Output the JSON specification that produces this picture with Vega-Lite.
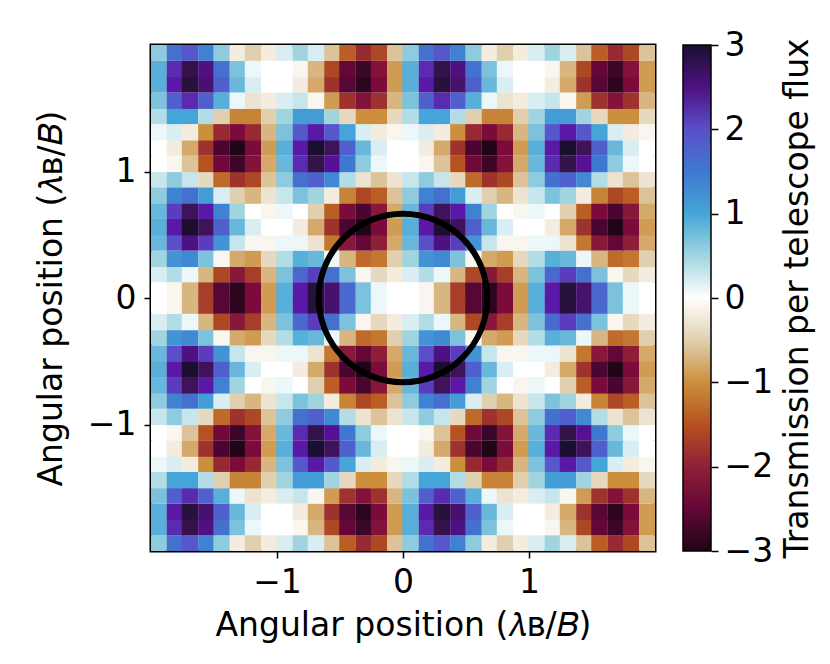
{"$schema":"https://vega.github.io/schema/vega-lite/v6.json","width":504,"height":506,"autosize":"none","padding":{"left":151,"top":45,"right":175,"bottom":113},"background":"white","view":{"stroke":"black","strokeWidth":3},"config":{"font":"DejaVu Sans","axis":{"grid":false,"labelFont":"DejaVu Sans","titleFont":"DejaVu Sans","labelFontSize":33,"titleFontSize":33,"titleFontWeight":"normal","labelColor":"black","titleColor":"black","tickColor":"black","tickSize":7,"tickWidth":1.5,"domain":false}},"resolve":{"scale":{"y":"independent"}},"datasets":{"cells":[
{"x":-1.94,"y":-1.94,"v":0.6},{"x":-1.81,"y":-1.94,"v":1.6},{"x":-1.69,"y":-1.94,"v":1.9},{"x":-1.56,"y":-1.94,"v":1.4},{"x":-1.44,"y":-1.94,"v":0.6},{"x":-1.31,"y":-1.94,"v":-0.2},{"x":-1.19,"y":-1.94,"v":-0.5},{"x":-1.06,"y":-1.94,"v":-0.2},{"x":-0.94,"y":-1.94,"v":0.2},{"x":-0.81,"y":-1.94,"v":0.5},{"x":-0.69,"y":-1.94,"v":0.2},{"x":-0.56,"y":-1.94,"v":-0.6},{"x":-0.44,"y":-1.94,"v":-1.4},{"x":-0.31,"y":-1.94,"v":-1.9},{"x":-0.19,"y":-1.94,"v":-1.6},{"x":-0.06,"y":-1.94,"v":-0.6},{"x":0.06,"y":-1.94,"v":0.6},{"x":0.19,"y":-1.94,"v":1.6},{"x":0.31,"y":-1.94,"v":1.9},{"x":0.44,"y":-1.94,"v":1.4},{"x":0.56,"y":-1.94,"v":0.6},{"x":0.69,"y":-1.94,"v":-0.2},{"x":0.81,"y":-1.94,"v":-0.5},{"x":0.94,"y":-1.94,"v":-0.2},{"x":1.06,"y":-1.94,"v":0.2},{"x":1.19,"y":-1.94,"v":0.5},{"x":1.31,"y":-1.94,"v":0.2},{"x":1.44,"y":-1.94,"v":-0.6},{"x":1.56,"y":-1.94,"v":-1.4},{"x":1.69,"y":-1.94,"v":-1.9},{"x":1.81,"y":-1.94,"v":-1.6},{"x":1.94,"y":-1.94,"v":-0.6},
{"x":-1.94,"y":-1.81,"v":0.9},{"x":-1.81,"y":-1.81,"v":2.2},{"x":-1.69,"y":-1.81,"v":2.8},{"x":-1.56,"y":-1.81,"v":2.5},{"x":-1.44,"y":-1.81,"v":1.6},{"x":-1.31,"y":-1.81,"v":0.7},{"x":-1.19,"y":-1.81,"v":0.1},{"x":-1.06,"y":-1.81,"v":0},{"x":-0.94,"y":-1.81,"v":0},{"x":-0.81,"y":-1.81,"v":-0.1},{"x":-0.69,"y":-1.81,"v":-0.7},{"x":-0.56,"y":-1.81,"v":-1.6},{"x":-0.44,"y":-1.81,"v":-2.5},{"x":-0.31,"y":-1.81,"v":-2.8},{"x":-0.19,"y":-1.81,"v":-2.2},{"x":-0.06,"y":-1.81,"v":-0.9},{"x":0.06,"y":-1.81,"v":0.9},{"x":0.19,"y":-1.81,"v":2.2},{"x":0.31,"y":-1.81,"v":2.8},{"x":0.44,"y":-1.81,"v":2.5},{"x":0.56,"y":-1.81,"v":1.6},{"x":0.69,"y":-1.81,"v":0.7},{"x":0.81,"y":-1.81,"v":0.1},{"x":0.94,"y":-1.81,"v":0},{"x":1.06,"y":-1.81,"v":0},{"x":1.19,"y":-1.81,"v":-0.1},{"x":1.31,"y":-1.81,"v":-0.7},{"x":1.44,"y":-1.81,"v":-1.6},{"x":1.56,"y":-1.81,"v":-2.5},{"x":1.69,"y":-1.81,"v":-2.8},{"x":1.81,"y":-1.81,"v":-2.2},{"x":1.94,"y":-1.81,"v":-0.9},
{"x":-1.94,"y":-1.69,"v":0.9},{"x":-1.81,"y":-1.69,"v":2.3},{"x":-1.69,"y":-1.69,"v":2.9},{"x":-1.56,"y":-1.69,"v":2.6},{"x":-1.44,"y":-1.69,"v":1.8},{"x":-1.31,"y":-1.69,"v":0.8},{"x":-1.19,"y":-1.69,"v":0.2},{"x":-1.06,"y":-1.69,"v":0},{"x":-0.94,"y":-1.69,"v":0},{"x":-0.81,"y":-1.69,"v":-0.2},{"x":-0.69,"y":-1.69,"v":-0.8},{"x":-0.56,"y":-1.69,"v":-1.8},{"x":-0.44,"y":-1.69,"v":-2.6},{"x":-0.31,"y":-1.69,"v":-2.9},{"x":-0.19,"y":-1.69,"v":-2.3},{"x":-0.06,"y":-1.69,"v":-0.9},{"x":0.06,"y":-1.69,"v":0.9},{"x":0.19,"y":-1.69,"v":2.3},{"x":0.31,"y":-1.69,"v":2.9},{"x":0.44,"y":-1.69,"v":2.6},{"x":0.56,"y":-1.69,"v":1.8},{"x":0.69,"y":-1.69,"v":0.8},{"x":0.81,"y":-1.69,"v":0.2},{"x":0.94,"y":-1.69,"v":0},{"x":1.06,"y":-1.69,"v":0},{"x":1.19,"y":-1.69,"v":-0.2},{"x":1.31,"y":-1.69,"v":-0.8},{"x":1.44,"y":-1.69,"v":-1.8},{"x":1.56,"y":-1.69,"v":-2.6},{"x":1.69,"y":-1.69,"v":-2.9},{"x":1.81,"y":-1.69,"v":-2.3},{"x":1.94,"y":-1.69,"v":-0.9},
{"x":-1.94,"y":-1.56,"v":0.7},{"x":-1.81,"y":-1.56,"v":1.8},{"x":-1.69,"y":-1.56,"v":2.2},{"x":-1.56,"y":-1.56,"v":1.8},{"x":-1.44,"y":-1.56,"v":0.9},{"x":-1.31,"y":-1.56,"v":0.1},{"x":-1.19,"y":-1.56,"v":-0.3},{"x":-1.06,"y":-1.56,"v":-0.2},{"x":-0.94,"y":-1.56,"v":0.2},{"x":-0.81,"y":-1.56,"v":0.3},{"x":-0.69,"y":-1.56,"v":-0.1},{"x":-0.56,"y":-1.56,"v":-0.9},{"x":-0.44,"y":-1.56,"v":-1.8},{"x":-0.31,"y":-1.56,"v":-2.2},{"x":-0.19,"y":-1.56,"v":-1.8},{"x":-0.06,"y":-1.56,"v":-0.7},{"x":0.06,"y":-1.56,"v":0.7},{"x":0.19,"y":-1.56,"v":1.8},{"x":0.31,"y":-1.56,"v":2.2},{"x":0.44,"y":-1.56,"v":1.8},{"x":0.56,"y":-1.56,"v":0.9},{"x":0.69,"y":-1.56,"v":0.1},{"x":0.81,"y":-1.56,"v":-0.3},{"x":0.94,"y":-1.56,"v":-0.2},{"x":1.06,"y":-1.56,"v":0.2},{"x":1.19,"y":-1.56,"v":0.3},{"x":1.31,"y":-1.56,"v":-0.1},{"x":1.44,"y":-1.56,"v":-0.9},{"x":1.56,"y":-1.56,"v":-1.8},{"x":1.69,"y":-1.56,"v":-2.2},{"x":1.81,"y":-1.56,"v":-1.8},{"x":1.94,"y":-1.56,"v":-0.7},
{"x":-1.94,"y":-1.44,"v":0.4},{"x":-1.81,"y":-1.44,"v":1},{"x":-1.69,"y":-1.44,"v":1},{"x":-1.56,"y":-1.44,"v":0.4},{"x":-1.44,"y":-1.44,"v":-0.5},{"x":-1.31,"y":-1.44,"v":-1.1},{"x":-1.19,"y":-1.44,"v":-1.1},{"x":-1.06,"y":-1.44,"v":-0.5},{"x":-0.94,"y":-1.44,"v":0.5},{"x":-0.81,"y":-1.44,"v":1.1},{"x":-0.69,"y":-1.44,"v":1.1},{"x":-0.56,"y":-1.44,"v":0.5},{"x":-0.44,"y":-1.44,"v":-0.4},{"x":-0.31,"y":-1.44,"v":-1},{"x":-0.19,"y":-1.44,"v":-1},{"x":-0.06,"y":-1.44,"v":-0.4},{"x":0.06,"y":-1.44,"v":0.4},{"x":0.19,"y":-1.44,"v":1},{"x":0.31,"y":-1.44,"v":1},{"x":0.44,"y":-1.44,"v":0.4},{"x":0.56,"y":-1.44,"v":-0.5},{"x":0.69,"y":-1.44,"v":-1.1},{"x":0.81,"y":-1.44,"v":-1.1},{"x":0.94,"y":-1.44,"v":-0.5},{"x":1.06,"y":-1.44,"v":0.5},{"x":1.19,"y":-1.44,"v":1.1},{"x":1.31,"y":-1.44,"v":1.1},{"x":1.44,"y":-1.44,"v":0.5},{"x":1.56,"y":-1.44,"v":-0.4},{"x":1.69,"y":-1.44,"v":-1},{"x":1.81,"y":-1.44,"v":-1},{"x":1.94,"y":-1.44,"v":-0.4},
{"x":-1.94,"y":-1.31,"v":0.1},{"x":-1.81,"y":-1.31,"v":0.2},{"x":-1.69,"y":-1.31,"v":-0.2},{"x":-1.56,"y":-1.31,"v":-1},{"x":-1.44,"y":-1.31,"v":-1.9},{"x":-1.31,"y":-1.31,"v":-2.3},{"x":-1.19,"y":-1.31,"v":-1.9},{"x":-1.06,"y":-1.31,"v":-0.7},{"x":-0.94,"y":-1.31,"v":0.7},{"x":-0.81,"y":-1.31,"v":1.9},{"x":-0.69,"y":-1.31,"v":2.3},{"x":-0.56,"y":-1.31,"v":1.9},{"x":-0.44,"y":-1.31,"v":1},{"x":-0.31,"y":-1.31,"v":0.2},{"x":-0.19,"y":-1.31,"v":-0.2},{"x":-0.06,"y":-1.31,"v":-0.1},{"x":0.06,"y":-1.31,"v":0.1},{"x":0.19,"y":-1.31,"v":0.2},{"x":0.31,"y":-1.31,"v":-0.2},{"x":0.44,"y":-1.31,"v":-1},{"x":0.56,"y":-1.31,"v":-1.9},{"x":0.69,"y":-1.31,"v":-2.3},{"x":0.81,"y":-1.31,"v":-1.9},{"x":0.94,"y":-1.31,"v":-0.7},{"x":1.06,"y":-1.31,"v":0.7},{"x":1.19,"y":-1.31,"v":1.9},{"x":1.31,"y":-1.31,"v":2.3},{"x":1.44,"y":-1.31,"v":1.9},{"x":1.56,"y":-1.31,"v":1},{"x":1.69,"y":-1.31,"v":0.2},{"x":1.81,"y":-1.31,"v":-0.2},{"x":1.94,"y":-1.31,"v":-0.1},
{"x":-1.94,"y":-1.19,"v":0},{"x":-1.81,"y":-1.19,"v":-0.2},{"x":-1.69,"y":-1.19,"v":-0.8},{"x":-1.56,"y":-1.19,"v":-1.8},{"x":-1.44,"y":-1.19,"v":-2.7},{"x":-1.31,"y":-1.19,"v":-3},{"x":-1.19,"y":-1.19,"v":-2.3},{"x":-1.06,"y":-1.19,"v":-0.9},{"x":-0.94,"y":-1.19,"v":0.9},{"x":-0.81,"y":-1.19,"v":2.3},{"x":-0.69,"y":-1.19,"v":3},{"x":-0.56,"y":-1.19,"v":2.7},{"x":-0.44,"y":-1.19,"v":1.8},{"x":-0.31,"y":-1.19,"v":0.8},{"x":-0.19,"y":-1.19,"v":0.2},{"x":-0.06,"y":-1.19,"v":0},{"x":0.06,"y":-1.19,"v":0},{"x":0.19,"y":-1.19,"v":-0.2},{"x":0.31,"y":-1.19,"v":-0.8},{"x":0.44,"y":-1.19,"v":-1.8},{"x":0.56,"y":-1.19,"v":-2.7},{"x":0.69,"y":-1.19,"v":-3},{"x":0.81,"y":-1.19,"v":-2.3},{"x":0.94,"y":-1.19,"v":-0.9},{"x":1.06,"y":-1.19,"v":0.9},{"x":1.19,"y":-1.19,"v":2.3},{"x":1.31,"y":-1.19,"v":3},{"x":1.44,"y":-1.19,"v":2.7},{"x":1.56,"y":-1.19,"v":1.8},{"x":1.69,"y":-1.19,"v":0.8},{"x":1.81,"y":-1.19,"v":0.2},{"x":1.94,"y":-1.19,"v":0},
{"x":-1.94,"y":-1.06,"v":0},{"x":-1.81,"y":-1.06,"v":-0.1},{"x":-1.69,"y":-1.06,"v":-0.6},{"x":-1.56,"y":-1.06,"v":-1.5},{"x":-1.44,"y":-1.06,"v":-2.4},{"x":-1.31,"y":-1.06,"v":-2.8},{"x":-1.19,"y":-1.06,"v":-2.2},{"x":-1.06,"y":-1.06,"v":-0.8},{"x":-0.94,"y":-1.06,"v":0.8},{"x":-0.81,"y":-1.06,"v":2.2},{"x":-0.69,"y":-1.06,"v":2.8},{"x":-0.56,"y":-1.06,"v":2.4},{"x":-0.44,"y":-1.06,"v":1.5},{"x":-0.31,"y":-1.06,"v":0.6},{"x":-0.19,"y":-1.06,"v":0.1},{"x":-0.06,"y":-1.06,"v":0},{"x":0.06,"y":-1.06,"v":0},{"x":0.19,"y":-1.06,"v":-0.1},{"x":0.31,"y":-1.06,"v":-0.6},{"x":0.44,"y":-1.06,"v":-1.5},{"x":0.56,"y":-1.06,"v":-2.4},{"x":0.69,"y":-1.06,"v":-2.8},{"x":0.81,"y":-1.06,"v":-2.2},{"x":0.94,"y":-1.06,"v":-0.8},{"x":1.06,"y":-1.06,"v":0.8},{"x":1.19,"y":-1.06,"v":2.2},{"x":1.31,"y":-1.06,"v":2.8},{"x":1.44,"y":-1.06,"v":2.4},{"x":1.56,"y":-1.06,"v":1.5},{"x":1.69,"y":-1.06,"v":0.6},{"x":1.81,"y":-1.06,"v":0.1},{"x":1.94,"y":-1.06,"v":0},
{"x":-1.94,"y":-0.94,"v":0.3},{"x":-1.81,"y":-0.94,"v":0.6},{"x":-1.69,"y":-0.94,"v":0.3},{"x":-1.56,"y":-0.94,"v":-0.4},{"x":-1.44,"y":-0.94,"v":-1.3},{"x":-1.31,"y":-0.94,"v":-1.8},{"x":-1.19,"y":-0.94,"v":-1.6},{"x":-1.06,"y":-0.94,"v":-0.6},{"x":-0.94,"y":-0.94,"v":0.6},{"x":-0.81,"y":-0.94,"v":1.6},{"x":-0.69,"y":-0.94,"v":1.8},{"x":-0.56,"y":-0.94,"v":1.3},{"x":-0.44,"y":-0.94,"v":0.4},{"x":-0.31,"y":-0.94,"v":-0.3},{"x":-0.19,"y":-0.94,"v":-0.6},{"x":-0.06,"y":-0.94,"v":-0.3},{"x":0.06,"y":-0.94,"v":0.3},{"x":0.19,"y":-0.94,"v":0.6},{"x":0.31,"y":-0.94,"v":0.3},{"x":0.44,"y":-0.94,"v":-0.4},{"x":0.56,"y":-0.94,"v":-1.3},{"x":0.69,"y":-0.94,"v":-1.8},{"x":0.81,"y":-0.94,"v":-1.6},{"x":0.94,"y":-0.94,"v":-0.6},{"x":1.06,"y":-0.94,"v":0.6},{"x":1.19,"y":-0.94,"v":1.6},{"x":1.31,"y":-0.94,"v":1.8},{"x":1.44,"y":-0.94,"v":1.3},{"x":1.56,"y":-0.94,"v":0.4},{"x":1.69,"y":-0.94,"v":-0.3},{"x":1.81,"y":-0.94,"v":-0.6},{"x":1.94,"y":-0.94,"v":-0.3},
{"x":-1.94,"y":-0.81,"v":0.6},{"x":-1.81,"y":-0.81,"v":1.4},{"x":-1.69,"y":-0.81,"v":1.6},{"x":-1.56,"y":-0.81,"v":1.1},{"x":-1.44,"y":-0.81,"v":0.2},{"x":-1.31,"y":-0.81,"v":-0.5},{"x":-1.19,"y":-0.81,"v":-0.7},{"x":-1.06,"y":-0.81,"v":-0.3},{"x":-0.94,"y":-0.81,"v":0.3},{"x":-0.81,"y":-0.81,"v":0.7},{"x":-0.69,"y":-0.81,"v":0.5},{"x":-0.56,"y":-0.81,"v":-0.2},{"x":-0.44,"y":-0.81,"v":-1.1},{"x":-0.31,"y":-0.81,"v":-1.6},{"x":-0.19,"y":-0.81,"v":-1.4},{"x":-0.06,"y":-0.81,"v":-0.6},{"x":0.06,"y":-0.81,"v":0.6},{"x":0.19,"y":-0.81,"v":1.4},{"x":0.31,"y":-0.81,"v":1.6},{"x":0.44,"y":-0.81,"v":1.1},{"x":0.56,"y":-0.81,"v":0.2},{"x":0.69,"y":-0.81,"v":-0.5},{"x":0.81,"y":-0.81,"v":-0.7},{"x":0.94,"y":-0.81,"v":-0.3},{"x":1.06,"y":-0.81,"v":0.3},{"x":1.19,"y":-0.81,"v":0.7},{"x":1.31,"y":-0.81,"v":0.5},{"x":1.44,"y":-0.81,"v":-0.2},{"x":1.56,"y":-0.81,"v":-1.1},{"x":1.69,"y":-0.81,"v":-1.6},{"x":1.81,"y":-0.81,"v":-1.4},{"x":1.94,"y":-0.81,"v":-0.6},
{"x":-1.94,"y":-0.69,"v":0.8},{"x":-1.81,"y":-0.69,"v":2.1},{"x":-1.69,"y":-0.69,"v":2.7},{"x":-1.56,"y":-0.69,"v":2.3},{"x":-1.44,"y":-0.69,"v":1.4},{"x":-1.31,"y":-0.69,"v":0.5},{"x":-1.19,"y":-0.69,"v":0},{"x":-1.06,"y":-0.69,"v":-0.1},{"x":-0.94,"y":-0.69,"v":0.1},{"x":-0.81,"y":-0.69,"v":0},{"x":-0.69,"y":-0.69,"v":-0.5},{"x":-0.56,"y":-0.69,"v":-1.4},{"x":-0.44,"y":-0.69,"v":-2.3},{"x":-0.31,"y":-0.69,"v":-2.7},{"x":-0.19,"y":-0.69,"v":-2.1},{"x":-0.06,"y":-0.69,"v":-0.8},{"x":0.06,"y":-0.69,"v":0.8},{"x":0.19,"y":-0.69,"v":2.1},{"x":0.31,"y":-0.69,"v":2.7},{"x":0.44,"y":-0.69,"v":2.3},{"x":0.56,"y":-0.69,"v":1.4},{"x":0.69,"y":-0.69,"v":0.5},{"x":0.81,"y":-0.69,"v":0},{"x":0.94,"y":-0.69,"v":-0.1},{"x":1.06,"y":-0.69,"v":0.1},{"x":1.19,"y":-0.69,"v":0},{"x":1.31,"y":-0.69,"v":-0.5},{"x":1.44,"y":-0.69,"v":-1.4},{"x":1.56,"y":-0.69,"v":-2.3},{"x":1.69,"y":-0.69,"v":-2.7},{"x":1.81,"y":-0.69,"v":-2.1},{"x":1.94,"y":-0.69,"v":-0.8},
{"x":-1.94,"y":-0.56,"v":0.9},{"x":-1.81,"y":-0.56,"v":2.3},{"x":-1.69,"y":-0.56,"v":3},{"x":-1.56,"y":-0.56,"v":2.7},{"x":-1.44,"y":-0.56,"v":1.8},{"x":-1.31,"y":-0.56,"v":0.8},{"x":-1.19,"y":-0.56,"v":0.2},{"x":-1.06,"y":-0.56,"v":0},{"x":-0.94,"y":-0.56,"v":0},{"x":-0.81,"y":-0.56,"v":-0.2},{"x":-0.69,"y":-0.56,"v":-0.8},{"x":-0.56,"y":-0.56,"v":-1.8},{"x":-0.44,"y":-0.56,"v":-2.7},{"x":-0.31,"y":-0.56,"v":-3},{"x":-0.19,"y":-0.56,"v":-2.3},{"x":-0.06,"y":-0.56,"v":-0.9},{"x":0.06,"y":-0.56,"v":0.9},{"x":0.19,"y":-0.56,"v":2.3},{"x":0.31,"y":-0.56,"v":3},{"x":0.44,"y":-0.56,"v":2.7},{"x":0.56,"y":-0.56,"v":1.8},{"x":0.69,"y":-0.56,"v":0.8},{"x":0.81,"y":-0.56,"v":0.2},{"x":0.94,"y":-0.56,"v":0},{"x":1.06,"y":-0.56,"v":0},{"x":1.19,"y":-0.56,"v":-0.2},{"x":1.31,"y":-0.56,"v":-0.8},{"x":1.44,"y":-0.56,"v":-1.8},{"x":1.56,"y":-0.56,"v":-2.7},{"x":1.69,"y":-0.56,"v":-3},{"x":1.81,"y":-0.56,"v":-2.3},{"x":1.94,"y":-0.56,"v":-0.9},
{"x":-1.94,"y":-0.44,"v":0.8},{"x":-1.81,"y":-0.44,"v":2},{"x":-1.69,"y":-0.44,"v":2.5},{"x":-1.56,"y":-0.44,"v":2.1},{"x":-1.44,"y":-0.44,"v":1.2},{"x":-1.31,"y":-0.44,"v":0.3},{"x":-1.19,"y":-0.44,"v":-0.1},{"x":-1.06,"y":-0.44,"v":-0.1},{"x":-0.94,"y":-0.44,"v":0.1},{"x":-0.81,"y":-0.44,"v":0.1},{"x":-0.69,"y":-0.44,"v":-0.3},{"x":-0.56,"y":-0.44,"v":-1.2},{"x":-0.44,"y":-0.44,"v":-2.1},{"x":-0.31,"y":-0.44,"v":-2.5},{"x":-0.19,"y":-0.44,"v":-2},{"x":-0.06,"y":-0.44,"v":-0.8},{"x":0.06,"y":-0.44,"v":0.8},{"x":0.19,"y":-0.44,"v":2},{"x":0.31,"y":-0.44,"v":2.5},{"x":0.44,"y":-0.44,"v":2.1},{"x":0.56,"y":-0.44,"v":1.2},{"x":0.69,"y":-0.44,"v":0.3},{"x":0.81,"y":-0.44,"v":-0.1},{"x":0.94,"y":-0.44,"v":-0.1},{"x":1.06,"y":-0.44,"v":0.1},{"x":1.19,"y":-0.44,"v":0.1},{"x":1.31,"y":-0.44,"v":-0.3},{"x":1.44,"y":-0.44,"v":-1.2},{"x":1.56,"y":-0.44,"v":-2.1},{"x":1.69,"y":-0.44,"v":-2.5},{"x":1.81,"y":-0.44,"v":-2},{"x":1.94,"y":-0.44,"v":-0.8},
{"x":-1.94,"y":-0.31,"v":0.5},{"x":-1.81,"y":-0.31,"v":1.2},{"x":-1.69,"y":-0.31,"v":1.3},{"x":-1.56,"y":-0.31,"v":0.7},{"x":-1.44,"y":-0.31,"v":-0.1},{"x":-1.31,"y":-0.31,"v":-0.8},{"x":-1.19,"y":-0.31,"v":-0.9},{"x":-1.06,"y":-0.31,"v":-0.4},{"x":-0.94,"y":-0.31,"v":0.4},{"x":-0.81,"y":-0.31,"v":0.9},{"x":-0.69,"y":-0.31,"v":0.8},{"x":-0.56,"y":-0.31,"v":0.1},{"x":-0.44,"y":-0.31,"v":-0.7},{"x":-0.31,"y":-0.31,"v":-1.3},{"x":-0.19,"y":-0.31,"v":-1.2},{"x":-0.06,"y":-0.31,"v":-0.5},{"x":0.06,"y":-0.31,"v":0.5},{"x":0.19,"y":-0.31,"v":1.2},{"x":0.31,"y":-0.31,"v":1.3},{"x":0.44,"y":-0.31,"v":0.7},{"x":0.56,"y":-0.31,"v":-0.1},{"x":0.69,"y":-0.31,"v":-0.8},{"x":0.81,"y":-0.31,"v":-0.9},{"x":0.94,"y":-0.31,"v":-0.4},{"x":1.06,"y":-0.31,"v":0.4},{"x":1.19,"y":-0.31,"v":0.9},{"x":1.31,"y":-0.31,"v":0.8},{"x":1.44,"y":-0.31,"v":0.1},{"x":1.56,"y":-0.31,"v":-0.7},{"x":1.69,"y":-0.31,"v":-1.3},{"x":1.81,"y":-0.31,"v":-1.2},{"x":1.94,"y":-0.31,"v":-0.5},
{"x":-1.94,"y":-0.19,"v":0.2},{"x":-1.81,"y":-0.19,"v":0.4},{"x":-1.69,"y":-0.19,"v":0.1},{"x":-1.56,"y":-0.19,"v":-0.7},{"x":-1.44,"y":-0.19,"v":-1.6},{"x":-1.31,"y":-0.19,"v":-2.1},{"x":-1.19,"y":-0.19,"v":-1.7},{"x":-1.06,"y":-0.19,"v":-0.7},{"x":-0.94,"y":-0.19,"v":0.7},{"x":-0.81,"y":-0.19,"v":1.7},{"x":-0.69,"y":-0.19,"v":2.1},{"x":-0.56,"y":-0.19,"v":1.6},{"x":-0.44,"y":-0.19,"v":0.7},{"x":-0.31,"y":-0.19,"v":-0.1},{"x":-0.19,"y":-0.19,"v":-0.4},{"x":-0.06,"y":-0.19,"v":-0.2},{"x":0.06,"y":-0.19,"v":0.2},{"x":0.19,"y":-0.19,"v":0.4},{"x":0.31,"y":-0.19,"v":0.1},{"x":0.44,"y":-0.19,"v":-0.7},{"x":0.56,"y":-0.19,"v":-1.6},{"x":0.69,"y":-0.19,"v":-2.1},{"x":0.81,"y":-0.19,"v":-1.7},{"x":0.94,"y":-0.19,"v":-0.7},{"x":1.06,"y":-0.19,"v":0.7},{"x":1.19,"y":-0.19,"v":1.7},{"x":1.31,"y":-0.19,"v":2.1},{"x":1.44,"y":-0.19,"v":1.6},{"x":1.56,"y":-0.19,"v":0.7},{"x":1.69,"y":-0.19,"v":-0.1},{"x":1.81,"y":-0.19,"v":-0.4},{"x":1.94,"y":-0.19,"v":-0.2},
{"x":-1.94,"y":-0.06,"v":0},{"x":-1.81,"y":-0.06,"v":-0.1},{"x":-1.69,"y":-0.06,"v":-0.7},{"x":-1.56,"y":-0.06,"v":-1.7},{"x":-1.44,"y":-0.06,"v":-2.6},{"x":-1.31,"y":-0.06,"v":-2.9},{"x":-1.19,"y":-0.06,"v":-2.3},{"x":-1.06,"y":-0.06,"v":-0.9},{"x":-0.94,"y":-0.06,"v":0.9},{"x":-0.81,"y":-0.06,"v":2.3},{"x":-0.69,"y":-0.06,"v":2.9},{"x":-0.56,"y":-0.06,"v":2.6},{"x":-0.44,"y":-0.06,"v":1.7},{"x":-0.31,"y":-0.06,"v":0.7},{"x":-0.19,"y":-0.06,"v":0.1},{"x":-0.06,"y":-0.06,"v":0},{"x":0.06,"y":-0.06,"v":0},{"x":0.19,"y":-0.06,"v":-0.1},{"x":0.31,"y":-0.06,"v":-0.7},{"x":0.44,"y":-0.06,"v":-1.7},{"x":0.56,"y":-0.06,"v":-2.6},{"x":0.69,"y":-0.06,"v":-2.9},{"x":0.81,"y":-0.06,"v":-2.3},{"x":0.94,"y":-0.06,"v":-0.9},{"x":1.06,"y":-0.06,"v":0.9},{"x":1.19,"y":-0.06,"v":2.3},{"x":1.31,"y":-0.06,"v":2.9},{"x":1.44,"y":-0.06,"v":2.6},{"x":1.56,"y":-0.06,"v":1.7},{"x":1.69,"y":-0.06,"v":0.7},{"x":1.81,"y":-0.06,"v":0.1},{"x":1.94,"y":-0.06,"v":0},
{"x":-1.94,"y":0.06,"v":0},{"x":-1.81,"y":0.06,"v":-0.1},{"x":-1.69,"y":0.06,"v":-0.7},{"x":-1.56,"y":0.06,"v":-1.7},{"x":-1.44,"y":0.06,"v":-2.6},{"x":-1.31,"y":0.06,"v":-2.9},{"x":-1.19,"y":0.06,"v":-2.3},{"x":-1.06,"y":0.06,"v":-0.9},{"x":-0.94,"y":0.06,"v":0.9},{"x":-0.81,"y":0.06,"v":2.3},{"x":-0.69,"y":0.06,"v":2.9},{"x":-0.56,"y":0.06,"v":2.6},{"x":-0.44,"y":0.06,"v":1.7},{"x":-0.31,"y":0.06,"v":0.7},{"x":-0.19,"y":0.06,"v":0.1},{"x":-0.06,"y":0.06,"v":0},{"x":0.06,"y":0.06,"v":0},{"x":0.19,"y":0.06,"v":-0.1},{"x":0.31,"y":0.06,"v":-0.7},{"x":0.44,"y":0.06,"v":-1.7},{"x":0.56,"y":0.06,"v":-2.6},{"x":0.69,"y":0.06,"v":-2.9},{"x":0.81,"y":0.06,"v":-2.3},{"x":0.94,"y":0.06,"v":-0.9},{"x":1.06,"y":0.06,"v":0.9},{"x":1.19,"y":0.06,"v":2.3},{"x":1.31,"y":0.06,"v":2.9},{"x":1.44,"y":0.06,"v":2.6},{"x":1.56,"y":0.06,"v":1.7},{"x":1.69,"y":0.06,"v":0.7},{"x":1.81,"y":0.06,"v":0.1},{"x":1.94,"y":0.06,"v":0},
{"x":-1.94,"y":0.19,"v":0.2},{"x":-1.81,"y":0.19,"v":0.4},{"x":-1.69,"y":0.19,"v":0.1},{"x":-1.56,"y":0.19,"v":-0.7},{"x":-1.44,"y":0.19,"v":-1.6},{"x":-1.31,"y":0.19,"v":-2.1},{"x":-1.19,"y":0.19,"v":-1.7},{"x":-1.06,"y":0.19,"v":-0.7},{"x":-0.94,"y":0.19,"v":0.7},{"x":-0.81,"y":0.19,"v":1.7},{"x":-0.69,"y":0.19,"v":2.1},{"x":-0.56,"y":0.19,"v":1.6},{"x":-0.44,"y":0.19,"v":0.7},{"x":-0.31,"y":0.19,"v":-0.1},{"x":-0.19,"y":0.19,"v":-0.4},{"x":-0.06,"y":0.19,"v":-0.2},{"x":0.06,"y":0.19,"v":0.2},{"x":0.19,"y":0.19,"v":0.4},{"x":0.31,"y":0.19,"v":0.1},{"x":0.44,"y":0.19,"v":-0.7},{"x":0.56,"y":0.19,"v":-1.6},{"x":0.69,"y":0.19,"v":-2.1},{"x":0.81,"y":0.19,"v":-1.7},{"x":0.94,"y":0.19,"v":-0.7},{"x":1.06,"y":0.19,"v":0.7},{"x":1.19,"y":0.19,"v":1.7},{"x":1.31,"y":0.19,"v":2.1},{"x":1.44,"y":0.19,"v":1.6},{"x":1.56,"y":0.19,"v":0.7},{"x":1.69,"y":0.19,"v":-0.1},{"x":1.81,"y":0.19,"v":-0.4},{"x":1.94,"y":0.19,"v":-0.2},
{"x":-1.94,"y":0.31,"v":0.5},{"x":-1.81,"y":0.31,"v":1.2},{"x":-1.69,"y":0.31,"v":1.3},{"x":-1.56,"y":0.31,"v":0.7},{"x":-1.44,"y":0.31,"v":-0.1},{"x":-1.31,"y":0.31,"v":-0.8},{"x":-1.19,"y":0.31,"v":-0.9},{"x":-1.06,"y":0.31,"v":-0.4},{"x":-0.94,"y":0.31,"v":0.4},{"x":-0.81,"y":0.31,"v":0.9},{"x":-0.69,"y":0.31,"v":0.8},{"x":-0.56,"y":0.31,"v":0.1},{"x":-0.44,"y":0.31,"v":-0.7},{"x":-0.31,"y":0.31,"v":-1.3},{"x":-0.19,"y":0.31,"v":-1.2},{"x":-0.06,"y":0.31,"v":-0.5},{"x":0.06,"y":0.31,"v":0.5},{"x":0.19,"y":0.31,"v":1.2},{"x":0.31,"y":0.31,"v":1.3},{"x":0.44,"y":0.31,"v":0.7},{"x":0.56,"y":0.31,"v":-0.1},{"x":0.69,"y":0.31,"v":-0.8},{"x":0.81,"y":0.31,"v":-0.9},{"x":0.94,"y":0.31,"v":-0.4},{"x":1.06,"y":0.31,"v":0.4},{"x":1.19,"y":0.31,"v":0.9},{"x":1.31,"y":0.31,"v":0.8},{"x":1.44,"y":0.31,"v":0.1},{"x":1.56,"y":0.31,"v":-0.7},{"x":1.69,"y":0.31,"v":-1.3},{"x":1.81,"y":0.31,"v":-1.2},{"x":1.94,"y":0.31,"v":-0.5},
{"x":-1.94,"y":0.44,"v":0.8},{"x":-1.81,"y":0.44,"v":2},{"x":-1.69,"y":0.44,"v":2.5},{"x":-1.56,"y":0.44,"v":2.1},{"x":-1.44,"y":0.44,"v":1.2},{"x":-1.31,"y":0.44,"v":0.3},{"x":-1.19,"y":0.44,"v":-0.1},{"x":-1.06,"y":0.44,"v":-0.1},{"x":-0.94,"y":0.44,"v":0.1},{"x":-0.81,"y":0.44,"v":0.1},{"x":-0.69,"y":0.44,"v":-0.3},{"x":-0.56,"y":0.44,"v":-1.2},{"x":-0.44,"y":0.44,"v":-2.1},{"x":-0.31,"y":0.44,"v":-2.5},{"x":-0.19,"y":0.44,"v":-2},{"x":-0.06,"y":0.44,"v":-0.8},{"x":0.06,"y":0.44,"v":0.8},{"x":0.19,"y":0.44,"v":2},{"x":0.31,"y":0.44,"v":2.5},{"x":0.44,"y":0.44,"v":2.1},{"x":0.56,"y":0.44,"v":1.2},{"x":0.69,"y":0.44,"v":0.3},{"x":0.81,"y":0.44,"v":-0.1},{"x":0.94,"y":0.44,"v":-0.1},{"x":1.06,"y":0.44,"v":0.1},{"x":1.19,"y":0.44,"v":0.1},{"x":1.31,"y":0.44,"v":-0.3},{"x":1.44,"y":0.44,"v":-1.2},{"x":1.56,"y":0.44,"v":-2.1},{"x":1.69,"y":0.44,"v":-2.5},{"x":1.81,"y":0.44,"v":-2},{"x":1.94,"y":0.44,"v":-0.8},
{"x":-1.94,"y":0.56,"v":0.9},{"x":-1.81,"y":0.56,"v":2.3},{"x":-1.69,"y":0.56,"v":3},{"x":-1.56,"y":0.56,"v":2.7},{"x":-1.44,"y":0.56,"v":1.8},{"x":-1.31,"y":0.56,"v":0.8},{"x":-1.19,"y":0.56,"v":0.2},{"x":-1.06,"y":0.56,"v":0},{"x":-0.94,"y":0.56,"v":0},{"x":-0.81,"y":0.56,"v":-0.2},{"x":-0.69,"y":0.56,"v":-0.8},{"x":-0.56,"y":0.56,"v":-1.8},{"x":-0.44,"y":0.56,"v":-2.7},{"x":-0.31,"y":0.56,"v":-3},{"x":-0.19,"y":0.56,"v":-2.3},{"x":-0.06,"y":0.56,"v":-0.9},{"x":0.06,"y":0.56,"v":0.9},{"x":0.19,"y":0.56,"v":2.3},{"x":0.31,"y":0.56,"v":3},{"x":0.44,"y":0.56,"v":2.7},{"x":0.56,"y":0.56,"v":1.8},{"x":0.69,"y":0.56,"v":0.8},{"x":0.81,"y":0.56,"v":0.2},{"x":0.94,"y":0.56,"v":0},{"x":1.06,"y":0.56,"v":0},{"x":1.19,"y":0.56,"v":-0.2},{"x":1.31,"y":0.56,"v":-0.8},{"x":1.44,"y":0.56,"v":-1.8},{"x":1.56,"y":0.56,"v":-2.7},{"x":1.69,"y":0.56,"v":-3},{"x":1.81,"y":0.56,"v":-2.3},{"x":1.94,"y":0.56,"v":-0.9},
{"x":-1.94,"y":0.69,"v":0.8},{"x":-1.81,"y":0.69,"v":2.1},{"x":-1.69,"y":0.69,"v":2.7},{"x":-1.56,"y":0.69,"v":2.3},{"x":-1.44,"y":0.69,"v":1.4},{"x":-1.31,"y":0.69,"v":0.5},{"x":-1.19,"y":0.69,"v":0},{"x":-1.06,"y":0.69,"v":-0.1},{"x":-0.94,"y":0.69,"v":0.1},{"x":-0.81,"y":0.69,"v":0},{"x":-0.69,"y":0.69,"v":-0.5},{"x":-0.56,"y":0.69,"v":-1.4},{"x":-0.44,"y":0.69,"v":-2.3},{"x":-0.31,"y":0.69,"v":-2.7},{"x":-0.19,"y":0.69,"v":-2.1},{"x":-0.06,"y":0.69,"v":-0.8},{"x":0.06,"y":0.69,"v":0.8},{"x":0.19,"y":0.69,"v":2.1},{"x":0.31,"y":0.69,"v":2.7},{"x":0.44,"y":0.69,"v":2.3},{"x":0.56,"y":0.69,"v":1.4},{"x":0.69,"y":0.69,"v":0.5},{"x":0.81,"y":0.69,"v":0},{"x":0.94,"y":0.69,"v":-0.1},{"x":1.06,"y":0.69,"v":0.1},{"x":1.19,"y":0.69,"v":0},{"x":1.31,"y":0.69,"v":-0.5},{"x":1.44,"y":0.69,"v":-1.4},{"x":1.56,"y":0.69,"v":-2.3},{"x":1.69,"y":0.69,"v":-2.7},{"x":1.81,"y":0.69,"v":-2.1},{"x":1.94,"y":0.69,"v":-0.8},
{"x":-1.94,"y":0.81,"v":0.6},{"x":-1.81,"y":0.81,"v":1.4},{"x":-1.69,"y":0.81,"v":1.6},{"x":-1.56,"y":0.81,"v":1.1},{"x":-1.44,"y":0.81,"v":0.2},{"x":-1.31,"y":0.81,"v":-0.5},{"x":-1.19,"y":0.81,"v":-0.7},{"x":-1.06,"y":0.81,"v":-0.3},{"x":-0.94,"y":0.81,"v":0.3},{"x":-0.81,"y":0.81,"v":0.7},{"x":-0.69,"y":0.81,"v":0.5},{"x":-0.56,"y":0.81,"v":-0.2},{"x":-0.44,"y":0.81,"v":-1.1},{"x":-0.31,"y":0.81,"v":-1.6},{"x":-0.19,"y":0.81,"v":-1.4},{"x":-0.06,"y":0.81,"v":-0.6},{"x":0.06,"y":0.81,"v":0.6},{"x":0.19,"y":0.81,"v":1.4},{"x":0.31,"y":0.81,"v":1.6},{"x":0.44,"y":0.81,"v":1.1},{"x":0.56,"y":0.81,"v":0.2},{"x":0.69,"y":0.81,"v":-0.5},{"x":0.81,"y":0.81,"v":-0.7},{"x":0.94,"y":0.81,"v":-0.3},{"x":1.06,"y":0.81,"v":0.3},{"x":1.19,"y":0.81,"v":0.7},{"x":1.31,"y":0.81,"v":0.5},{"x":1.44,"y":0.81,"v":-0.2},{"x":1.56,"y":0.81,"v":-1.1},{"x":1.69,"y":0.81,"v":-1.6},{"x":1.81,"y":0.81,"v":-1.4},{"x":1.94,"y":0.81,"v":-0.6},
{"x":-1.94,"y":0.94,"v":0.3},{"x":-1.81,"y":0.94,"v":0.6},{"x":-1.69,"y":0.94,"v":0.3},{"x":-1.56,"y":0.94,"v":-0.4},{"x":-1.44,"y":0.94,"v":-1.3},{"x":-1.31,"y":0.94,"v":-1.8},{"x":-1.19,"y":0.94,"v":-1.6},{"x":-1.06,"y":0.94,"v":-0.6},{"x":-0.94,"y":0.94,"v":0.6},{"x":-0.81,"y":0.94,"v":1.6},{"x":-0.69,"y":0.94,"v":1.8},{"x":-0.56,"y":0.94,"v":1.3},{"x":-0.44,"y":0.94,"v":0.4},{"x":-0.31,"y":0.94,"v":-0.3},{"x":-0.19,"y":0.94,"v":-0.6},{"x":-0.06,"y":0.94,"v":-0.3},{"x":0.06,"y":0.94,"v":0.3},{"x":0.19,"y":0.94,"v":0.6},{"x":0.31,"y":0.94,"v":0.3},{"x":0.44,"y":0.94,"v":-0.4},{"x":0.56,"y":0.94,"v":-1.3},{"x":0.69,"y":0.94,"v":-1.8},{"x":0.81,"y":0.94,"v":-1.6},{"x":0.94,"y":0.94,"v":-0.6},{"x":1.06,"y":0.94,"v":0.6},{"x":1.19,"y":0.94,"v":1.6},{"x":1.31,"y":0.94,"v":1.8},{"x":1.44,"y":0.94,"v":1.3},{"x":1.56,"y":0.94,"v":0.4},{"x":1.69,"y":0.94,"v":-0.3},{"x":1.81,"y":0.94,"v":-0.6},{"x":1.94,"y":0.94,"v":-0.3},
{"x":-1.94,"y":1.06,"v":0},{"x":-1.81,"y":1.06,"v":-0.1},{"x":-1.69,"y":1.06,"v":-0.6},{"x":-1.56,"y":1.06,"v":-1.5},{"x":-1.44,"y":1.06,"v":-2.4},{"x":-1.31,"y":1.06,"v":-2.8},{"x":-1.19,"y":1.06,"v":-2.2},{"x":-1.06,"y":1.06,"v":-0.8},{"x":-0.94,"y":1.06,"v":0.8},{"x":-0.81,"y":1.06,"v":2.2},{"x":-0.69,"y":1.06,"v":2.8},{"x":-0.56,"y":1.06,"v":2.4},{"x":-0.44,"y":1.06,"v":1.5},{"x":-0.31,"y":1.06,"v":0.6},{"x":-0.19,"y":1.06,"v":0.1},{"x":-0.06,"y":1.06,"v":0},{"x":0.06,"y":1.06,"v":0},{"x":0.19,"y":1.06,"v":-0.1},{"x":0.31,"y":1.06,"v":-0.6},{"x":0.44,"y":1.06,"v":-1.5},{"x":0.56,"y":1.06,"v":-2.4},{"x":0.69,"y":1.06,"v":-2.8},{"x":0.81,"y":1.06,"v":-2.2},{"x":0.94,"y":1.06,"v":-0.8},{"x":1.06,"y":1.06,"v":0.8},{"x":1.19,"y":1.06,"v":2.2},{"x":1.31,"y":1.06,"v":2.8},{"x":1.44,"y":1.06,"v":2.4},{"x":1.56,"y":1.06,"v":1.5},{"x":1.69,"y":1.06,"v":0.6},{"x":1.81,"y":1.06,"v":0.1},{"x":1.94,"y":1.06,"v":0},
{"x":-1.94,"y":1.19,"v":0},{"x":-1.81,"y":1.19,"v":-0.2},{"x":-1.69,"y":1.19,"v":-0.8},{"x":-1.56,"y":1.19,"v":-1.8},{"x":-1.44,"y":1.19,"v":-2.7},{"x":-1.31,"y":1.19,"v":-3},{"x":-1.19,"y":1.19,"v":-2.3},{"x":-1.06,"y":1.19,"v":-0.9},{"x":-0.94,"y":1.19,"v":0.9},{"x":-0.81,"y":1.19,"v":2.3},{"x":-0.69,"y":1.19,"v":3},{"x":-0.56,"y":1.19,"v":2.7},{"x":-0.44,"y":1.19,"v":1.8},{"x":-0.31,"y":1.19,"v":0.8},{"x":-0.19,"y":1.19,"v":0.2},{"x":-0.06,"y":1.19,"v":0},{"x":0.06,"y":1.19,"v":0},{"x":0.19,"y":1.19,"v":-0.2},{"x":0.31,"y":1.19,"v":-0.8},{"x":0.44,"y":1.19,"v":-1.8},{"x":0.56,"y":1.19,"v":-2.7},{"x":0.69,"y":1.19,"v":-3},{"x":0.81,"y":1.19,"v":-2.3},{"x":0.94,"y":1.19,"v":-0.9},{"x":1.06,"y":1.19,"v":0.9},{"x":1.19,"y":1.19,"v":2.3},{"x":1.31,"y":1.19,"v":3},{"x":1.44,"y":1.19,"v":2.7},{"x":1.56,"y":1.19,"v":1.8},{"x":1.69,"y":1.19,"v":0.8},{"x":1.81,"y":1.19,"v":0.2},{"x":1.94,"y":1.19,"v":0},
{"x":-1.94,"y":1.31,"v":0.1},{"x":-1.81,"y":1.31,"v":0.2},{"x":-1.69,"y":1.31,"v":-0.2},{"x":-1.56,"y":1.31,"v":-1},{"x":-1.44,"y":1.31,"v":-1.9},{"x":-1.31,"y":1.31,"v":-2.3},{"x":-1.19,"y":1.31,"v":-1.9},{"x":-1.06,"y":1.31,"v":-0.7},{"x":-0.94,"y":1.31,"v":0.7},{"x":-0.81,"y":1.31,"v":1.9},{"x":-0.69,"y":1.31,"v":2.3},{"x":-0.56,"y":1.31,"v":1.9},{"x":-0.44,"y":1.31,"v":1},{"x":-0.31,"y":1.31,"v":0.2},{"x":-0.19,"y":1.31,"v":-0.2},{"x":-0.06,"y":1.31,"v":-0.1},{"x":0.06,"y":1.31,"v":0.1},{"x":0.19,"y":1.31,"v":0.2},{"x":0.31,"y":1.31,"v":-0.2},{"x":0.44,"y":1.31,"v":-1},{"x":0.56,"y":1.31,"v":-1.9},{"x":0.69,"y":1.31,"v":-2.3},{"x":0.81,"y":1.31,"v":-1.9},{"x":0.94,"y":1.31,"v":-0.7},{"x":1.06,"y":1.31,"v":0.7},{"x":1.19,"y":1.31,"v":1.9},{"x":1.31,"y":1.31,"v":2.3},{"x":1.44,"y":1.31,"v":1.9},{"x":1.56,"y":1.31,"v":1},{"x":1.69,"y":1.31,"v":0.2},{"x":1.81,"y":1.31,"v":-0.2},{"x":1.94,"y":1.31,"v":-0.1},
{"x":-1.94,"y":1.44,"v":0.4},{"x":-1.81,"y":1.44,"v":1},{"x":-1.69,"y":1.44,"v":1},{"x":-1.56,"y":1.44,"v":0.4},{"x":-1.44,"y":1.44,"v":-0.5},{"x":-1.31,"y":1.44,"v":-1.1},{"x":-1.19,"y":1.44,"v":-1.1},{"x":-1.06,"y":1.44,"v":-0.5},{"x":-0.94,"y":1.44,"v":0.5},{"x":-0.81,"y":1.44,"v":1.1},{"x":-0.69,"y":1.44,"v":1.1},{"x":-0.56,"y":1.44,"v":0.5},{"x":-0.44,"y":1.44,"v":-0.4},{"x":-0.31,"y":1.44,"v":-1},{"x":-0.19,"y":1.44,"v":-1},{"x":-0.06,"y":1.44,"v":-0.4},{"x":0.06,"y":1.44,"v":0.4},{"x":0.19,"y":1.44,"v":1},{"x":0.31,"y":1.44,"v":1},{"x":0.44,"y":1.44,"v":0.4},{"x":0.56,"y":1.44,"v":-0.5},{"x":0.69,"y":1.44,"v":-1.1},{"x":0.81,"y":1.44,"v":-1.1},{"x":0.94,"y":1.44,"v":-0.5},{"x":1.06,"y":1.44,"v":0.5},{"x":1.19,"y":1.44,"v":1.1},{"x":1.31,"y":1.44,"v":1.1},{"x":1.44,"y":1.44,"v":0.5},{"x":1.56,"y":1.44,"v":-0.4},{"x":1.69,"y":1.44,"v":-1},{"x":1.81,"y":1.44,"v":-1},{"x":1.94,"y":1.44,"v":-0.4},
{"x":-1.94,"y":1.56,"v":0.7},{"x":-1.81,"y":1.56,"v":1.8},{"x":-1.69,"y":1.56,"v":2.2},{"x":-1.56,"y":1.56,"v":1.8},{"x":-1.44,"y":1.56,"v":0.9},{"x":-1.31,"y":1.56,"v":0.1},{"x":-1.19,"y":1.56,"v":-0.3},{"x":-1.06,"y":1.56,"v":-0.2},{"x":-0.94,"y":1.56,"v":0.2},{"x":-0.81,"y":1.56,"v":0.3},{"x":-0.69,"y":1.56,"v":-0.1},{"x":-0.56,"y":1.56,"v":-0.9},{"x":-0.44,"y":1.56,"v":-1.8},{"x":-0.31,"y":1.56,"v":-2.2},{"x":-0.19,"y":1.56,"v":-1.8},{"x":-0.06,"y":1.56,"v":-0.7},{"x":0.06,"y":1.56,"v":0.7},{"x":0.19,"y":1.56,"v":1.8},{"x":0.31,"y":1.56,"v":2.2},{"x":0.44,"y":1.56,"v":1.8},{"x":0.56,"y":1.56,"v":0.9},{"x":0.69,"y":1.56,"v":0.1},{"x":0.81,"y":1.56,"v":-0.3},{"x":0.94,"y":1.56,"v":-0.2},{"x":1.06,"y":1.56,"v":0.2},{"x":1.19,"y":1.56,"v":0.3},{"x":1.31,"y":1.56,"v":-0.1},{"x":1.44,"y":1.56,"v":-0.9},{"x":1.56,"y":1.56,"v":-1.8},{"x":1.69,"y":1.56,"v":-2.2},{"x":1.81,"y":1.56,"v":-1.8},{"x":1.94,"y":1.56,"v":-0.7},
{"x":-1.94,"y":1.69,"v":0.9},{"x":-1.81,"y":1.69,"v":2.3},{"x":-1.69,"y":1.69,"v":2.9},{"x":-1.56,"y":1.69,"v":2.6},{"x":-1.44,"y":1.69,"v":1.8},{"x":-1.31,"y":1.69,"v":0.8},{"x":-1.19,"y":1.69,"v":0.2},{"x":-1.06,"y":1.69,"v":0},{"x":-0.94,"y":1.69,"v":0},{"x":-0.81,"y":1.69,"v":-0.2},{"x":-0.69,"y":1.69,"v":-0.8},{"x":-0.56,"y":1.69,"v":-1.8},{"x":-0.44,"y":1.69,"v":-2.6},{"x":-0.31,"y":1.69,"v":-2.9},{"x":-0.19,"y":1.69,"v":-2.3},{"x":-0.06,"y":1.69,"v":-0.9},{"x":0.06,"y":1.69,"v":0.9},{"x":0.19,"y":1.69,"v":2.3},{"x":0.31,"y":1.69,"v":2.9},{"x":0.44,"y":1.69,"v":2.6},{"x":0.56,"y":1.69,"v":1.8},{"x":0.69,"y":1.69,"v":0.8},{"x":0.81,"y":1.69,"v":0.2},{"x":0.94,"y":1.69,"v":0},{"x":1.06,"y":1.69,"v":0},{"x":1.19,"y":1.69,"v":-0.2},{"x":1.31,"y":1.69,"v":-0.8},{"x":1.44,"y":1.69,"v":-1.8},{"x":1.56,"y":1.69,"v":-2.6},{"x":1.69,"y":1.69,"v":-2.9},{"x":1.81,"y":1.69,"v":-2.3},{"x":1.94,"y":1.69,"v":-0.9},
{"x":-1.94,"y":1.81,"v":0.9},{"x":-1.81,"y":1.81,"v":2.2},{"x":-1.69,"y":1.81,"v":2.8},{"x":-1.56,"y":1.81,"v":2.5},{"x":-1.44,"y":1.81,"v":1.6},{"x":-1.31,"y":1.81,"v":0.7},{"x":-1.19,"y":1.81,"v":0.1},{"x":-1.06,"y":1.81,"v":0},{"x":-0.94,"y":1.81,"v":0},{"x":-0.81,"y":1.81,"v":-0.1},{"x":-0.69,"y":1.81,"v":-0.7},{"x":-0.56,"y":1.81,"v":-1.6},{"x":-0.44,"y":1.81,"v":-2.5},{"x":-0.31,"y":1.81,"v":-2.8},{"x":-0.19,"y":1.81,"v":-2.2},{"x":-0.06,"y":1.81,"v":-0.9},{"x":0.06,"y":1.81,"v":0.9},{"x":0.19,"y":1.81,"v":2.2},{"x":0.31,"y":1.81,"v":2.8},{"x":0.44,"y":1.81,"v":2.5},{"x":0.56,"y":1.81,"v":1.6},{"x":0.69,"y":1.81,"v":0.7},{"x":0.81,"y":1.81,"v":0.1},{"x":0.94,"y":1.81,"v":0},{"x":1.06,"y":1.81,"v":0},{"x":1.19,"y":1.81,"v":-0.1},{"x":1.31,"y":1.81,"v":-0.7},{"x":1.44,"y":1.81,"v":-1.6},{"x":1.56,"y":1.81,"v":-2.5},{"x":1.69,"y":1.81,"v":-2.8},{"x":1.81,"y":1.81,"v":-2.2},{"x":1.94,"y":1.81,"v":-0.9},
{"x":-1.94,"y":1.94,"v":0.6},{"x":-1.81,"y":1.94,"v":1.6},{"x":-1.69,"y":1.94,"v":1.9},{"x":-1.56,"y":1.94,"v":1.4},{"x":-1.44,"y":1.94,"v":0.6},{"x":-1.31,"y":1.94,"v":-0.2},{"x":-1.19,"y":1.94,"v":-0.5},{"x":-1.06,"y":1.94,"v":-0.2},{"x":-0.94,"y":1.94,"v":0.2},{"x":-0.81,"y":1.94,"v":0.5},{"x":-0.69,"y":1.94,"v":0.2},{"x":-0.56,"y":1.94,"v":-0.6},{"x":-0.44,"y":1.94,"v":-1.4},{"x":-0.31,"y":1.94,"v":-1.9},{"x":-0.19,"y":1.94,"v":-1.6},{"x":-0.06,"y":1.94,"v":-0.6},{"x":0.06,"y":1.94,"v":0.6},{"x":0.19,"y":1.94,"v":1.6},{"x":0.31,"y":1.94,"v":1.9},{"x":0.44,"y":1.94,"v":1.4},{"x":0.56,"y":1.94,"v":0.6},{"x":0.69,"y":1.94,"v":-0.2},{"x":0.81,"y":1.94,"v":-0.5},{"x":0.94,"y":1.94,"v":-0.2},{"x":1.06,"y":1.94,"v":0.2},{"x":1.19,"y":1.94,"v":0.5},{"x":1.31,"y":1.94,"v":0.2},{"x":1.44,"y":1.94,"v":-0.6},{"x":1.56,"y":1.94,"v":-1.4},{"x":1.69,"y":1.94,"v":-1.9},{"x":1.81,"y":1.94,"v":-1.6},{"x":1.94,"y":1.94,"v":-0.6}
]},"layer":[{"data":{"name":"cells"},"mark":{"type":"rect","width":16.5,"height":16.5,"clip":true},"encoding":{"x":{"field":"x","type":"quantitative","scale":{"domain":[-2,2],"nice":false,"zero":false},"axis":{"values":[-1,0,1],"format":"d","title":"Angular position (𝜆ʙ/𝐵)","labelPadding":8,"titlePadding":10}},"y":{"field":"y","type":"quantitative","scale":{"domain":[-2,2],"nice":false,"zero":false},"axis":{"values":[-1,0,1],"format":"d","title":"Angular position (𝜆ʙ/𝐵)","labelPadding":8,"titlePadding":19}},"color":{"field":"v","type":"quantitative","scale":{"interpolate":"rgb","domain":[-3,-2.75,-2.35,-2,-1.5,-1,-0.5,0,0.5,1,1.5,2,2.35,2.75,3],"range":["#1f0515","#43062e","#78083c","#8f1f38","#b5521f","#cc8f3c","#e0d0b0","#ffffff","#a0d5e0","#45a5d8","#3f78d0","#5a4fc8","#5a0fa0","#3a1450","#1a0f30"]},"legend":{"orient":"none","legendX":532,"legendY":0,"title":null,"padding":0,"gradientLength":506,"gradientThickness":28,"gradientStrokeColor":"black","gradientStrokeWidth":1.5,"labelOpacity":0,"labelExpr":"''","values":[-3,3]}}}},{"data":{"values":[{"x":0,"y":0}]},"mark":{"type":"point","filled":false,"stroke":"black","strokeWidth":6,"opacity":1,"size":28400},"encoding":{"x":{"field":"x","type":"quantitative"},"y":{"field":"y","type":"quantitative","scale":{"domain":[-2,2],"nice":false,"zero":false},"axis":null}}},{"data":{"values":[{"t":-3},{"t":3}]},"mark":{"type":"point","opacity":0},"encoding":{"y":{"field":"t","type":"quantitative","scale":{"domain":[-3,3],"nice":false,"zero":false},"axis":{"orient":"right","offset":56,"values":[-3,-2,-1,0,1,2,3],"format":"d","title":"Transmission per telescope flux","titleAngle":270,"titlePadding":42,"labelPadding":6}}}}]}
